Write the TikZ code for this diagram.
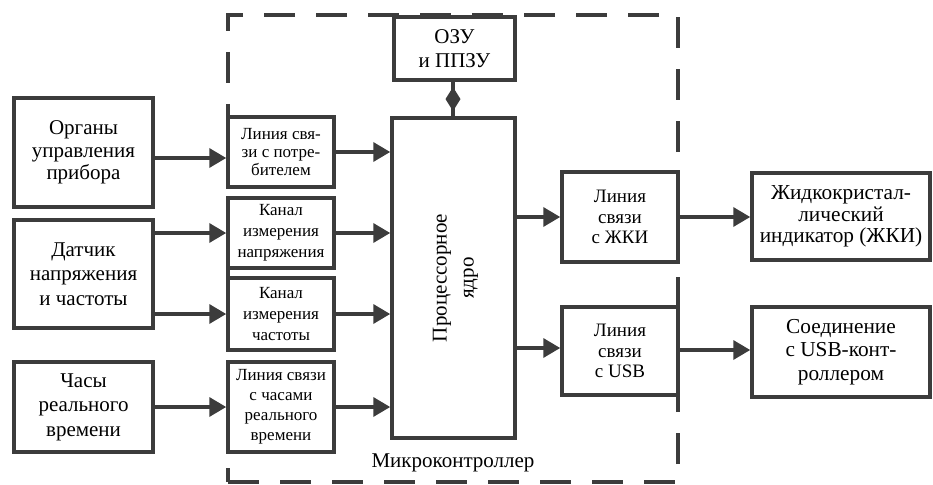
\documentclass[tikz,border=0pt]{standalone}
\usepackage{fontspec}
\setmainfont{Liberation Serif}
\usetikzlibrary{arrows.meta,decorations.markings}
\definecolor{lc}{RGB}{60,60,60}
\begin{document}
\begin{tikzpicture}[x=1pt,y=-1pt,
  box/.style={draw=lc, line width=3.5pt, fill=white, align=center, inner sep=1pt,
    font=\fontsize{21}{24.5}\selectfont},
  sbox/.style={box, font=\fontsize{17}{20}\selectfont},
  arr/.style={draw=lc, line width=3.5pt, -{Triangle[length=17pt,width=19pt]}},
  dbox/.style={draw=lc, line width=3.5pt, dash pattern=on 31pt off 21pt}]
\useasboundingbox (0,0) rectangle (933,484);
% microcontroller boundary
\node[dbox, minimum width=450pt, minimum height=467pt, inner sep=0pt] (mc) at (453,248.5) {};
\node[font=\fontsize{21}{24}\selectfont] (mclab) at (453,463) {Микроконтроллер};
% left boxes
\node[box, minimum width=139pt, minimum height=109pt, font=\fontsize{21}{22.5}\selectfont] (org) at (83.5,152.5) {Органы\\управления\\прибора};
\node[box, minimum width=139pt, minimum height=108pt] (dat) at (83.5,274) {Датчик\\напряжения\\и частоты};
\node[box, minimum width=139pt, minimum height=90pt] (clk) at (83.5,407) {Часы\\реального\\времени};
% interface boxes
\node[sbox, minimum width=106pt, minimum height=70pt, font=\fontsize{17}{18}\selectfont] (lin1) at (281,152) {Линия свя-\\зи с потре-\\бителем};
\node[sbox, minimum width=106pt, minimum height=70pt, font=\fontsize{17}{21}\selectfont] (kan1) at (281,233) {Канал\\измерения\\напряжения};
\node[sbox, minimum width=106pt, minimum height=72pt, font=\fontsize{17}{21}\selectfont] (kan2) at (281,314) {Канал\\измерения\\частоты};
\node[sbox, minimum width=106pt, minimum height=90pt] (lin4) at (281,407) {Линия связи\\с часами\\реального\\времени};
% core and memory
\node[box, minimum width=123pt, minimum height=320pt] (proc) at (453.5,278) {};
\node[font=\fontsize{21}{27}\selectfont, rotate=90, align=center] (proclab) at ([xshift=2pt]proc.center) {Процессорное\\ядро};
\node[box, minimum width=121pt, minimum height=63pt] (ozu) at (454.5,48.5) {ОЗУ\\и ППЗУ};
% output links
\node[sbox, minimum width=116pt, minimum height=90pt, font=\fontsize{19}{20.5}\selectfont] (zki1) at (620,217) {Линия\\связи\\с ЖКИ};
\node[sbox, minimum width=116pt, minimum height=88pt, font=\fontsize{19}{20.5}\selectfont] (usb1) at (620,351) {Линия\\связи\\с USB};
\node[box, minimum width=178pt, minimum height=87pt, font=\fontsize{21.3}{21.5}\selectfont] (zki2) at (841,216.5) {Жидкокристал-\\лический\\индикатор (ЖКИ)};
\node[box, minimum width=178pt, minimum height=90pt, font=\fontsize{21.3}{23.5}\selectfont] (usb2) at (841,352) {Соединение\\с USB-конт-\\роллером};
% connectors
\draw[arr] ([yshift=-5.5pt]org.east) -- ([yshift=-6pt]lin1.west);
\draw[arr] (dat.east |- kan1.west) -- (kan1.west);
\draw[arr] (dat.east |- kan2.west) -- (kan2.west);
\draw[arr] (clk.east) -- (lin4.west);
\draw[arr] (lin1.east) -- (proc.west |- lin1.east);
\draw[arr] (kan1.east) -- (proc.west |- kan1.east);
\draw[arr] (kan2.east) -- (proc.west |- kan2.east);
\draw[arr] (lin4.east) -- (proc.west |- lin4.east);
\draw[arr] (proc.east |- zki1.west) -- (zki1.west);
\draw[arr] ([yshift=3pt]proc.east |- usb1.west) -- ([yshift=3pt]usb1.west);
\draw[arr] (zki1.east) -- (zki1.east -| zki2.west);
\draw[arr] ([yshift=1pt]usb1.east) -- ([yshift=1pt]usb1.east -| usb2.west);
\draw[draw=lc, line width=3.5pt, postaction={decorate},
  decoration={markings, mark=at position 0.85 with {\arrow{Diamond[length=24pt,width=15pt]}}}]
  ([xshift=-1.5pt]ozu.south) -- ([xshift=-1.5pt]ozu.south |- proc.north);
\end{tikzpicture}
\end{document}
